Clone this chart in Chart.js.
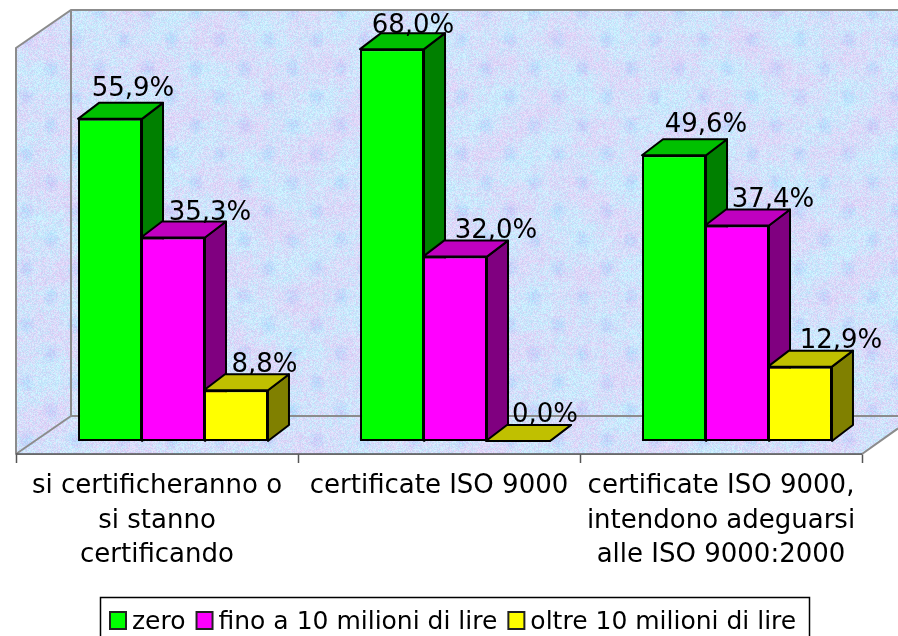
<!DOCTYPE html>
<html>
<head>
<meta charset="utf-8">
<title>Certificazione ISO 9000</title>
<script src="https://cdn.jsdelivr.net/npm/chart.js@4"></script>
<style>
  html, body { margin: 0; padding: 0; background: #fff; overflow: hidden; }
  canvas { display: block; }
</style>
</head>
<body>
<canvas id="myChart" width="898" height="636"></canvas>
<script>
const categories = [
  ["si certificheranno o", "si stanno", "certificando"],
  "certificate ISO 9000",
  ["certificate ISO 9000,", "intendono adeguarsi", "alle ISO 9000:2000"],
];
const seriesNames = ["zero", "fino a 10 milioni di lire", "oltre 10 milioni di lire"];
const zero = [55.9, 68.0, 49.6];
const finoA10 = [35.3, 32.0, 37.4];
const oltre10 = [8.8, 0.0, 12.9];

const FONT = '"DejaVu Sans", Verdana, sans-serif';
const FRONT = ["#00ff00", "#ff00ff", "#ffff00"];
const TOP = ["#00c000", "#c000c0", "#c0c000"];
const SIDE = ["#008000", "#800080", "#808000"];

// box depth and shift of the bars towards the middle of the floor
const DEPTH_X = 21;
const DEPTH_Y = 16;
const BAR_SHIFT = 16;
const WALL_DX = 55;
const WALL_DY = 38;

// per label tweak [dx, dy], series by category
const LABEL_NUDGE = [
  [[2, -7], [0, 0], [11, -7]],
  [[16, -2], [20, -3], [15, -2]],
  [[7.5, -2], [6, -3], [20, -3]],
];

// mottled blue/lilac wallpaper for the walls
function makeTexture(w, h) {
  const c = document.createElement("canvas");
  c.width = w;
  c.height = h;
  const g = c.getContext("2d");
  const img = g.createImageData(w, h);
  const hash = (x, y, k) => {
    const v = Math.sin(x * 12.9898 + y * 78.233 + k * 37.719) * 43758.5453;
    return v - Math.floor(v);
  };
  for (let y = 0; y < h; y++) {
    for (let x = 0; x < w; x++) {
      const blob = Math.sin(x * 0.071 + Math.sin(y * 0.047) * 2.1) +
        Math.sin(y * 0.083 + Math.sin(x * 0.037) * 1.7) +
        0.9 * Math.sin((x + y) * 0.19) * Math.sin((x - y) * 0.15);
      const grain = 0.6 * hash(x, y, 0) + 0.4 * hash(x >> 1, y >> 1, 2);
      const t = Math.min(1, Math.max(0, 0.5 + blob * 0.14 + (grain - 0.5) * 1.1));
      // soft darker blue patches
      const patch = Math.max(0, Math.sin(x * 0.13 + 1.3) * Math.sin(y * 0.11 + 0.4) - 0.45) * 30;
      const light = (hash(x, y, 1) - 0.4) * 24;
      const i = (y * w + x) * 4;
      img.data[i] = 222 - t * 28 + light - patch;
      img.data[i + 1] = 208 + t * 27 + light - patch * 0.6;
      img.data[i + 2] = 246 + t * 6 + light * 0.4;
      img.data[i + 3] = 255;
    }
  }
  g.putImageData(img, 0, 0);
  return c;
}

function poly(ctx, pts) {
  ctx.beginPath();
  pts.forEach((p, i) => (i ? ctx.lineTo(p[0], p[1]) : ctx.moveTo(p[0], p[1])));
  ctx.closePath();
}

const wallsPlugin = {
  id: "walls",
  beforeDatasetsDraw(chart) {
    const { ctx, chartArea: a, width } = chart;
    const backLeft = a.left + WALL_DX;
    const backTop = a.top - WALL_DY;
    const backBottom = a.bottom - WALL_DY;
    const floorEdge = a.bottom - DEPTH_Y * 1.6;

    ctx.save();
    ctx.fillStyle = ctx.createPattern(makeTexture(chart.width, chart.height), "no-repeat");
    poly(ctx, [
      [a.left, a.top], [backLeft, backTop], [width, backTop],
      [width, floorEdge], [a.right, a.bottom], [a.left, a.bottom],
    ]);
    ctx.fill();

    ctx.strokeStyle = "#8c8c8c";
    ctx.lineWidth = 2;
    ctx.beginPath();
    ctx.moveTo(a.left, a.bottom);
    ctx.lineTo(a.left, a.top);
    ctx.lineTo(backLeft, backTop);
    ctx.lineTo(width, backTop);
    ctx.moveTo(backLeft, backTop);
    ctx.lineTo(backLeft, backBottom);
    ctx.lineTo(width, backBottom);
    ctx.moveTo(backLeft, backBottom);
    ctx.lineTo(a.left, a.bottom);
    ctx.moveTo(a.right, a.bottom);
    ctx.lineTo(width, floorEdge);
    ctx.stroke();

    // front edge of the floor, the fill above runs over the axis line
    ctx.strokeStyle = "#555";
    ctx.lineWidth = 1.5;
    ctx.beginPath();
    ctx.moveTo(a.left, a.bottom);
    ctx.lineTo(a.right, a.bottom);
    ctx.stroke();

    // side and top faces go down first, the library paints the fronts over them
    ctx.translate(BAR_SHIFT, 0);
    ctx.lineWidth = 2;
    ctx.strokeStyle = "#000";
    ctx.lineJoin = "round";
    chart.data.labels.forEach((_, col) => {
      chart.data.datasets.forEach((ds, s) => {
        const bar = chart.getDatasetMeta(s).data[col];
        const l = bar.x - bar.width / 2;
        const r = bar.x + bar.width / 2;
        const t = bar.y;
        const b = bar.base;
        poly(ctx, [[r, t], [r + DEPTH_X, t - DEPTH_Y], [r + DEPTH_X, b - DEPTH_Y], [r, b]]);
        ctx.fillStyle = SIDE[s];
        ctx.fill();
        ctx.stroke();
        poly(ctx, [[l, t], [l + DEPTH_X, t - DEPTH_Y], [r + DEPTH_X, t - DEPTH_Y], [r, t]]);
        ctx.fillStyle = TOP[s];
        ctx.fill();
        ctx.stroke();
      });
    });
    // fronts stay shifted until afterDatasetsDraw
  },
  afterDatasetsDraw(chart) {
    const { ctx } = chart;
    ctx.restore();

    // value labels with a decimal comma
    ctx.save();
    ctx.font = "26px " + FONT;
    ctx.fillStyle = "#000";
    ctx.textAlign = "center";
    ctx.textBaseline = "alphabetic";
    chart.data.datasets.forEach((ds, s) => {
      chart.getDatasetMeta(s).data.forEach((bar, col) => {
        const text = ds.data[col].toFixed(1).replace(".", ",") + "%";
        const nudge = LABEL_NUDGE[s][col];
        ctx.fillText(text, bar.x + BAR_SHIFT + DEPTH_X + nudge[0], bar.y - DEPTH_Y + nudge[1]);
      });
    });
    ctx.restore();
  },
};

const legendBoxPlugin = {
  id: "legendBox",
  afterDraw(chart) {
    const { ctx } = chart;
    ctx.save();
    ctx.strokeStyle = "#000";
    ctx.lineWidth = 1.5;
    ctx.strokeRect(100.5, 597.5, 709, 42);
    ctx.font = "25px " + FONT;
    ctx.textBaseline = "alphabetic";
    let x = 110;
    chart.data.datasets.forEach((ds, s) => {
      ctx.fillStyle = ds.backgroundColor;
      ctx.fillRect(x, 612, 16, 17);
      ctx.lineWidth = 2;
      ctx.strokeStyle = "#222";
      ctx.strokeRect(x, 612, 16, 17);
      ctx.fillStyle = "#000";
      ctx.fillText(ds.label, x + 22, 629);
      x += 22 + ctx.measureText(ds.label).width + 11;
    });
    ctx.restore();
  },
};

new Chart(document.getElementById("myChart"), {
  type: "bar",
  plugins: [wallsPlugin, legendBoxPlugin],
  data: {
    labels: categories,
    datasets: [zero, finoA10, oltre10].map((values, s) => ({
      label: seriesNames[s],
      data: values,
      backgroundColor: FRONT[s],
      borderColor: "#000",
      borderWidth: 2,
      borderSkipped: false,
    })),
  },
  options: {
    responsive: false,
    animation: false,
    layout: { padding: { left: 16, right: 36, top: 48, bottom: 0 } },
    categoryPercentage: 0.67,
    barPercentage: 1.016,
    plugins: { legend: { display: false }, tooltip: { enabled: false } },
    scales: {
      x: {
        afterFit(scale) { scale.height = 182; },
        border: { color: "#555", width: 1.5 },
        grid: { drawOnChartArea: false, tickLength: 9, tickColor: "#555", tickWidth: 1.5 },
        ticks: {
          autoSkip: false,
          maxRotation: 0,
          color: "#000",
          padding: 6,
          font: { family: FONT, size: 26, lineHeight: 1.33 },
        },
      },
      y: { display: false, min: -2.26, max: 68.2 },
    },
  },
});
</script>
</body>
</html>
